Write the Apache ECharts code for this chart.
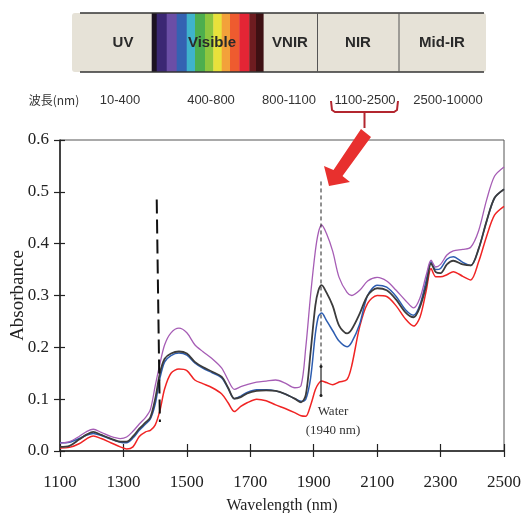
<!DOCTYPE html>
<html><head><meta charset="utf-8">
<script src="https://cdn.jsdelivr.net/npm/echarts@6/dist/echarts.min.js"></script>
<style>html,body{margin:0;padding:0;background:#fff}#c{width:522px;height:513px}</style>
</head><body><div id="c"></div>
<script>
// ---- data ----
const wl = [1100,1130,1160,1185,1205,1230,1260,1290,1310,1330,1350,1370,1385,1400,1415,1430,1450,1475,1500,1525,1550,1580,1610,1630,1650,1670,1690,1720,1750,1780,1810,1840,1860,1875,1890,1905,1915,1925,1940,1960,1980,2005,2020,2045,2070,2100,2130,2160,2190,2215,2235,2255,2270,2285,2300,2320,2340,2370,2395,2420,2445,2470,2500];
const purple = [0.015,0.018,0.028,0.038,0.042,0.036,0.028,0.024,0.027,0.038,0.052,0.065,0.080,0.125,0.168,0.205,0.228,0.237,0.228,0.205,0.192,0.178,0.160,0.137,0.119,0.124,0.128,0.133,0.135,0.137,0.131,0.122,0.126,0.200,0.300,0.385,0.422,0.436,0.420,0.385,0.335,0.306,0.300,0.310,0.328,0.335,0.328,0.310,0.290,0.276,0.295,0.340,0.368,0.355,0.360,0.378,0.386,0.389,0.393,0.425,0.484,0.530,0.548];
const black = [0.008,0.010,0.022,0.032,0.037,0.031,0.024,0.018,0.018,0.028,0.043,0.055,0.065,0.100,0.150,0.178,0.188,0.192,0.188,0.172,0.162,0.153,0.143,0.122,0.101,0.104,0.111,0.116,0.117,0.116,0.110,0.101,0.094,0.108,0.190,0.280,0.310,0.320,0.306,0.280,0.242,0.227,0.235,0.265,0.300,0.314,0.310,0.292,0.267,0.258,0.278,0.320,0.362,0.345,0.343,0.360,0.367,0.360,0.358,0.390,0.443,0.488,0.505];
const blue = [0.016,0.017,0.024,0.031,0.034,0.030,0.023,0.017,0.016,0.025,0.040,0.052,0.062,0.090,0.140,0.172,0.184,0.189,0.185,0.170,0.160,0.151,0.141,0.121,0.101,0.106,0.113,0.118,0.118,0.116,0.110,0.101,0.096,0.100,0.140,0.225,0.260,0.266,0.252,0.232,0.212,0.201,0.210,0.245,0.300,0.320,0.316,0.298,0.272,0.262,0.282,0.330,0.365,0.350,0.352,0.370,0.375,0.364,0.358,0.390,0.443,0.488,0.505];
const red = [0.006,0.007,0.014,0.024,0.029,0.024,0.016,0.008,0.004,0.008,0.028,0.037,0.040,0.050,0.078,0.120,0.150,0.158,0.155,0.137,0.130,0.122,0.110,0.093,0.076,0.086,0.093,0.100,0.097,0.089,0.082,0.074,0.068,0.067,0.088,0.118,0.130,0.135,0.132,0.128,0.133,0.138,0.165,0.240,0.285,0.300,0.298,0.280,0.254,0.241,0.258,0.310,0.352,0.336,0.336,0.340,0.346,0.337,0.330,0.365,0.414,0.455,0.472];
const xTicks = [1100,1300,1500,1700,1900,2100,2300,2500];
const yTicks = [0.0,0.1,0.2,0.3,0.4,0.5,0.6];
const bandLine = [[1405,0.485],[1415,0.056]];
const waterDash = [[1923,0.52],[1923,0.163]];
const waterSolid = [[1923,0.163],[1923,0.107]];
const regions = ['UV','Visible','VNIR','NIR','Mid-IR'];
const ranges = ['10-400','400-800','800-1100','1100-2500','2500-10000'];
const rangeHead = '波長(nm)';
const waterLabel = ['Water','(1940 nm)'];

const pair = a => wl.map((x,i)=>[x,a[i]]);
const serif = '"Liberation Serif","Times New Roman",serif';
const sans = '"Liberation Sans",Arial,sans-serif';

// ---- top diagram graphics ----
const g = [];
g.push({type:'rect',shape:{x:72,y:13,width:414,height:59,r:3},style:{fill:'#e6e2d7'}});
const stripes = [[151.7,156.7,'#1c1222'],[156.7,166.7,'#3b2774'],[166.7,176.7,'#6b4ea6'],[176.7,186.7,'#3462b2'],[186.7,195,'#3fb3cb'],[195,205,'#4dae4e'],[205,213.3,'#8ec63f'],[213.3,221.7,'#e8e13b'],[221.7,230,'#f3a13a'],[230,239.3,'#ee5b2f'],[239.3,249.3,'#e42535'],[249.3,256,'#6e1c20'],[256,263.3,'#3e1013']];
stripes.forEach(s=>g.push({type:'rect',shape:{x:s[0],y:13,width:s[1]-s[0]+0.3,height:59},style:{fill:s[2]}}));
g.push({type:'line',shape:{x1:80,y1:13,x2:484,y2:13},style:{stroke:'#333',lineWidth:1.4}});
g.push({type:'line',shape:{x1:80,y1:72,x2:484,y2:72},style:{stroke:'#333',lineWidth:1.4}});
[317.5,399].forEach(x=>g.push({type:'line',shape:{x1:x,y1:13,x2:x,y2:72},style:{stroke:'#555',lineWidth:1}}));
const regX = [123,212,290,358,442];
regions.forEach((t,i)=>g.push({type:'text',x:regX[i],y:43,style:{text:t,font:'bold 15px '+sans,fill:'#2a2a2a',textAlign:'center',textVerticalAlign:'middle'}}));
g.push({type:'text',x:54,y:100,style:{text:rangeHead,font:'12px "Noto Sans CJK JP",'+sans,fill:'#333',textAlign:'center',textVerticalAlign:'middle'}});
const rngX = [120,211,289,365,448];
ranges.forEach((t,i)=>g.push({type:'text',x:rngX[i],y:100,style:{text:t,font:'13px '+sans,fill:'#333',textAlign:'center',textVerticalAlign:'middle'}}));
// bracket
g.push({type:'polyline',shape:{points:[[331,101],[332,110],[335,112],[394,112],[397,110],[398,101]]},style:{stroke:'#b3262f',lineWidth:2,fill:null}});
g.push({type:'line',shape:{x1:364.5,y1:112,x2:364.5,y2:128},style:{stroke:'#b3262f',lineWidth:2}});
// arrow
g.push({type:'polygon',shape:{points:[[361,129],[371,137],[342.5,176],[350,182],[329,186],[324,166],[333.5,170]]},style:{fill:'#e8302e'}});
// water labels
g.push({type:'text',x:333,y:412,style:{text:waterLabel[0],font:'13px '+serif,fill:'#333',textAlign:'center',textVerticalAlign:'middle'}});
g.push({type:'text',x:333,y:431,style:{text:waterLabel[1],font:'13px '+serif,fill:'#333',textAlign:'center',textVerticalAlign:'middle'}});

const chart = echarts.init(document.getElementById('c'));
const lbl = {fontFamily:serif,fontSize:17,color:'#222'};
chart.setOption({
  animation:false,
  grid:{left:60,right:18,top:140,bottom:62,show:true,borderColor:'#555',borderWidth:1,containLabel:false,outerBoundsMode:'none'},
  graphic:g,
  xAxis:[{type:'value',min:1100,max:2500,interval:200,
    name:'Wavelength (nm)',nameLocation:'middle',nameGap:47,nameMoveOverlap:false,nameTextStyle:{fontFamily:serif,fontSize:16,color:'#222'},
    axisLine:{lineStyle:{color:'#222',width:1.5}},axisTick:{length:6,lineStyle:{color:'#222',width:1.2}},
    axisLabel:Object.assign({margin:23,formatter:v=>xTicks.includes(v)?String(v):''},lbl),splitLine:{show:false}},
   {type:'value',min:1100,max:2500,interval:200,position:'bottom',axisLine:{show:false},axisLabel:{show:false},
    axisTick:{inside:true,length:7,lineStyle:{color:'#222',width:1.2}},splitLine:{show:false}}],
  yAxis:[{type:'value',min:0,max:0.6,interval:0.1,
    name:'Absorbance',nameLocation:'middle',nameGap:32,nameMoveOverlap:false,nameTextStyle:{fontFamily:serif,fontSize:19,color:'#222'},
    axisLine:{lineStyle:{color:'#222',width:1.5}},axisTick:{length:6,lineStyle:{color:'#222',width:1.2}},
    axisLabel:Object.assign({margin:11,formatter:v=>v.toFixed(1)},lbl),splitLine:{show:false}},
   {type:'value',min:0,max:0.6,interval:0.1,position:'left',axisLine:{show:false},axisLabel:{show:false},
    axisTick:{inside:true,length:5,lineStyle:{color:'#222',width:1.2}},splitLine:{show:false}}],
  series:[
    {type:'line',data:pair(red),smooth:0.3,showSymbol:false,lineStyle:{color:'#f02424',width:1.5}},
    {type:'line',data:pair(blue),smooth:0.3,showSymbol:false,lineStyle:{color:'#2d5db0',width:1.5}},
    {type:'line',data:pair(black),smooth:0.3,showSymbol:false,lineStyle:{color:'#3c3c3c',width:1.8}},
    {type:'line',data:pair(purple),smooth:0.3,showSymbol:false,lineStyle:{color:'#a65db5',width:1.3}},
    {type:'line',data:bandLine,showSymbol:false,lineStyle:{color:'#111',width:2,type:[14,6]},silent:true},
    {type:'line',data:waterDash,showSymbol:false,lineStyle:{color:'#222',width:1,type:[4,3]},silent:true},
    {type:'line',data:waterSolid,symbol:'circle',symbolSize:[3,3],showSymbol:true,itemStyle:{color:'#222'},lineStyle:{color:'#222',width:1.2},silent:true}
  ]
});
</script></body></html>
